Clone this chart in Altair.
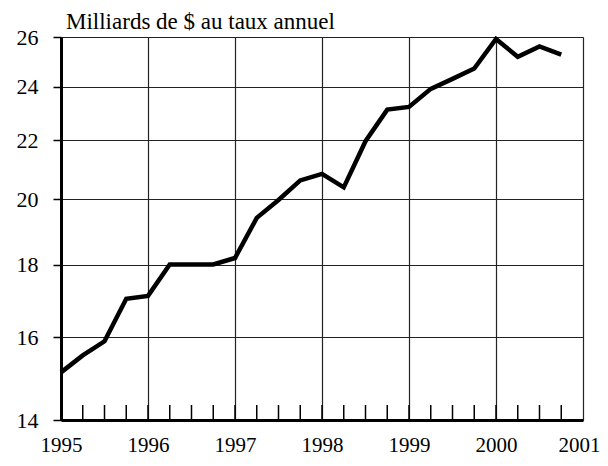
import altair as alt
import pandas as pd

periods = [1995.00, 1995.25, 1995.50, 1995.75,
           1996.00, 1996.25, 1996.50, 1996.75,
           1997.00, 1997.25, 1997.50, 1997.75,
           1998.00, 1998.25, 1998.50, 1998.75,
           1999.00, 1999.25, 1999.50, 1999.75,
           2000.00, 2000.25, 2000.50, 2000.75]
values = [15.12, 15.54, 15.90, 17.03,
          17.11, 18.00, 18.00, 18.00,
          18.19, 19.41, 19.98, 20.62,
          20.84, 20.39, 21.97, 23.12,
          23.22, 23.91, 24.30, 24.71,
          25.92, 25.18, 25.61, 25.27]
quarter_ticks = [1995.25, 1995.5, 1995.75, 1996.0, 1996.25, 1996.5, 1996.75,
                 1997.0, 1997.25, 1997.5, 1997.75, 1998.0, 1998.25, 1998.5, 1998.75,
                 1999.0, 1999.25, 1999.5, 1999.75, 2000.0, 2000.25, 2000.5, 2000.75]
year_labels = [1995, 1996, 1997, 1998, 1999, 2000, 2001]
y_ticks = [14, 16, 18, 20, 22, 24, 26]
title_text = ["Milliards de $ au taux annuel"]

FONT = "Liberation Serif"
W, H = 522, 383

df = pd.DataFrame({"t": periods, "v": values})
qdf = pd.DataFrame({"q": quarter_ticks})
tdf = pd.DataFrame({"label": title_text})

xscale = alt.Scale(domain=[1995, 2001], nice=False, zero=False)
yscale = alt.Scale(type="log", domain=[14, 26], nice=False, zero=False)

line = alt.Chart(df).mark_line(color="black", strokeWidth=4.5, strokeJoin="miter").encode(
    x=alt.X("t:Q", scale=xscale, title=None,
            axis=alt.Axis(values=year_labels, format="d", grid=True, gridColor="#222",
                          gridWidth=1.2, tickSize=0, domainColor="black", domainWidth=3,
                          labelFont=FONT, labelFontSize=21, labelColor="black",
                          labelPadding=14, labelFlush=False,
                          labelOffset=alt.condition("datum.value == 2001",
                                                    alt.value(-4), alt.value(0)))),
    y=alt.Y("v:Q", scale=yscale, title=None,
            axis=alt.Axis(values=y_ticks, format="d", grid=True, gridColor="#222",
                          gridWidth=1.2, tickSize=8, tickColor="black", tickWidth=1.5,
                          domainColor="black", domainWidth=3,
                          labelFont=FONT, labelFontSize=22, labelColor="black",
                          labelPadding=15)),
)

ticks = alt.Chart(qdf).mark_rule(color="black", strokeWidth=1.5).encode(
    x=alt.X("q:Q", scale=xscale),
    y=alt.value(H - 15),
    y2=alt.value(H),
)

title = alt.Chart(tdf).mark_text(font=FONT, fontSize=23, color="black",
                                 align="left", baseline="alphabetic").encode(
    x=alt.value(5), y=alt.value(-8), text="label:N")

chart = alt.layer(ticks, line, title).properties(
    width=W, height=H,
    autosize=alt.AutoSizeParams(type="none"),
    padding={"left": 53, "top": 29, "right": 17, "bottom": 38},
).configure_view(stroke="black", strokeWidth=1.5).configure(background="white")

chart.save("out.html", embed_options={"renderer": "svg", "actions": False})
